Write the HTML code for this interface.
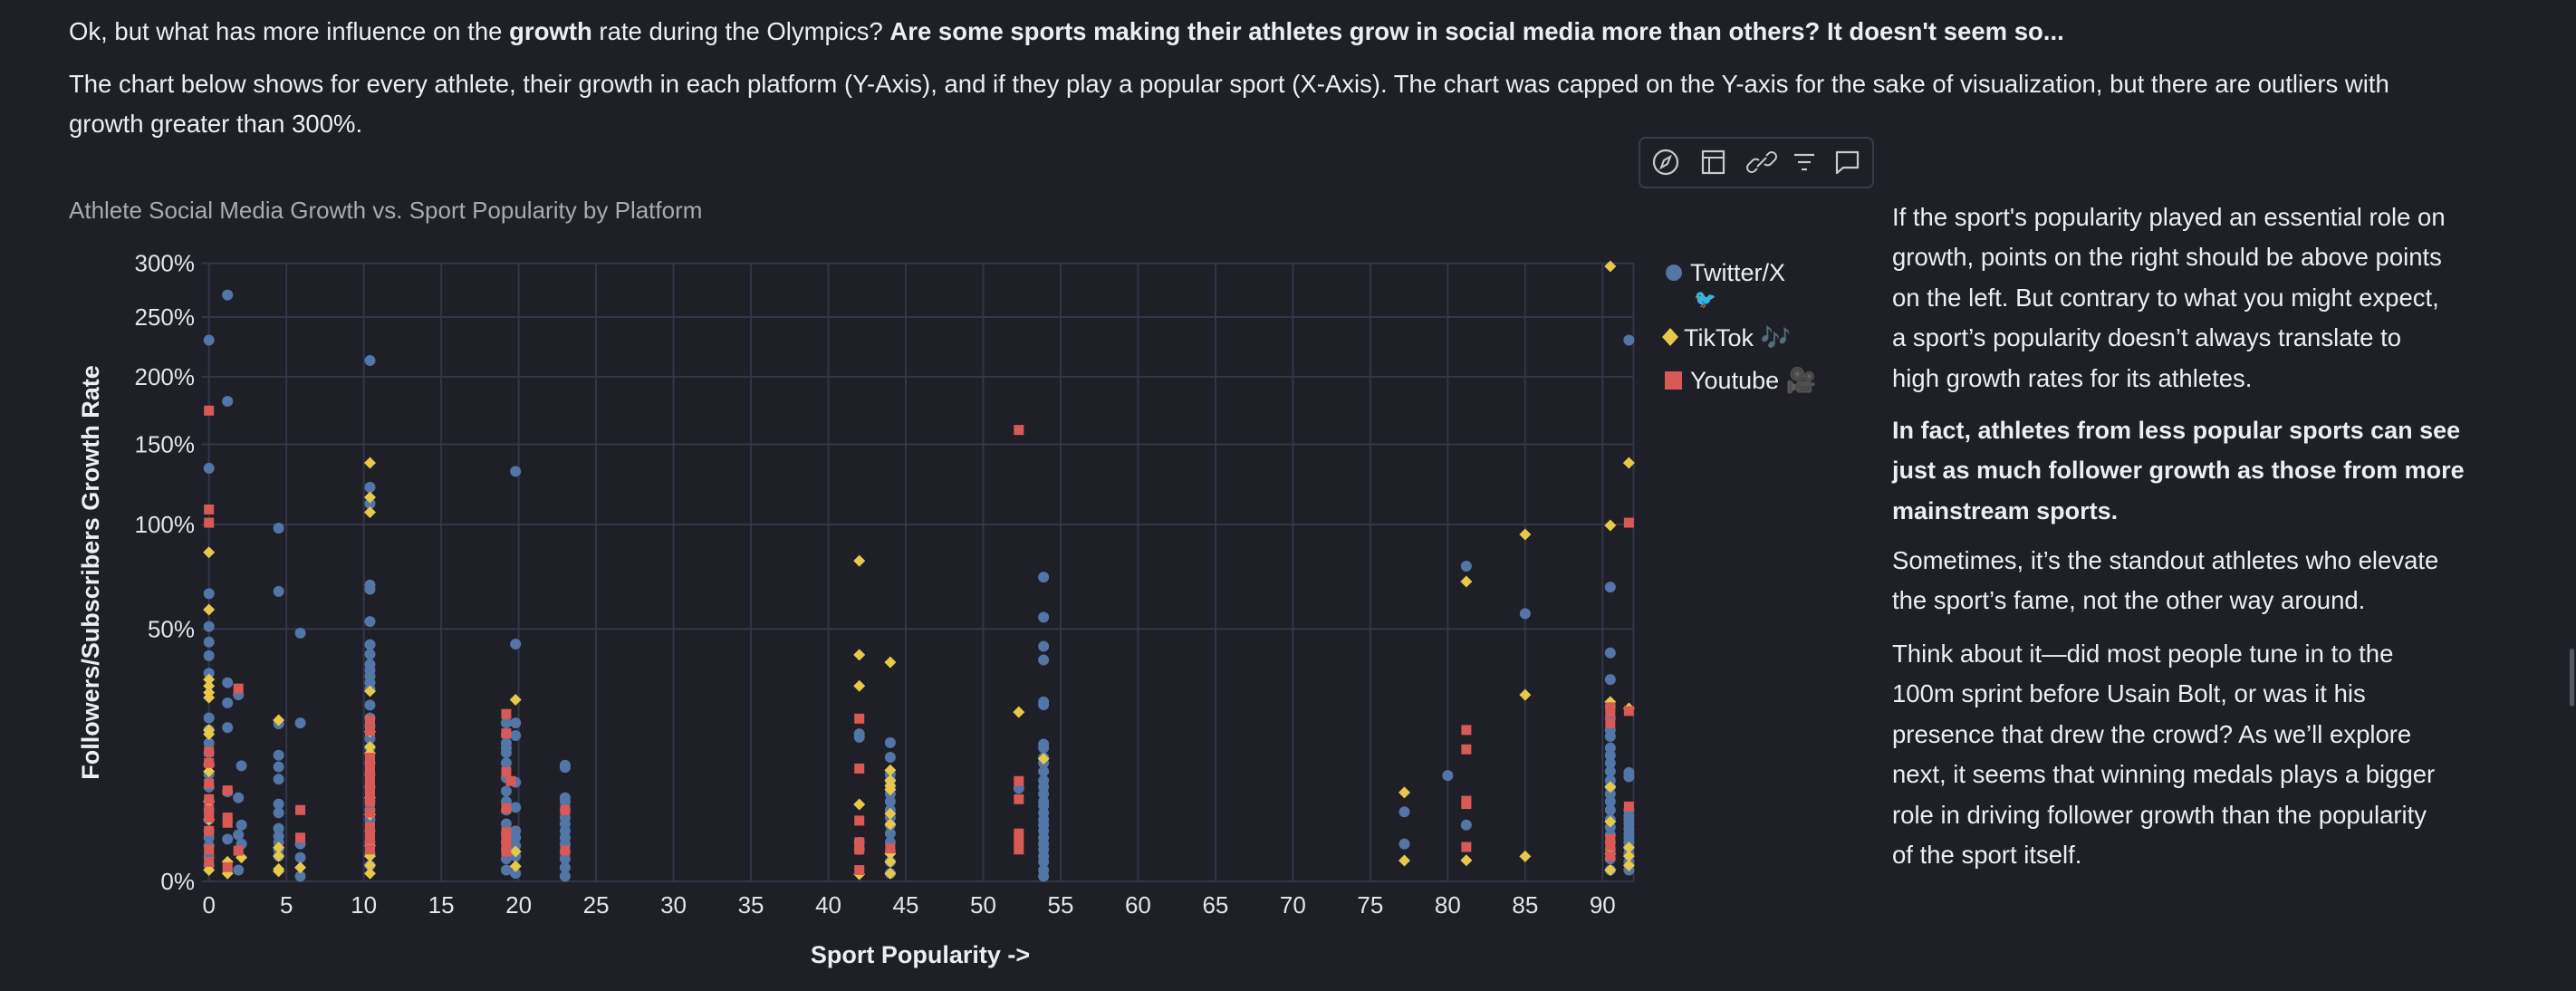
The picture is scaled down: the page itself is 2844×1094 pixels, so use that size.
<!DOCTYPE html>
<html><head><meta charset="utf-8">
<style>
html,body{margin:0;padding:0;background:#1e1f27;}
body{width:2844px;height:1094px;position:relative;overflow:hidden;font-family:"Liberation Sans","Noto Sans CJK JP",sans-serif;color:#eceef2;}
.p{position:absolute;white-space:nowrap;font-size:27.5px;line-height:44.4px;}
.r{position:absolute;white-space:nowrap;font-size:27.5px;line-height:44.4px;left:2089px;}
b{font-weight:bold;}
</style></head><body>
<div class="p" style="left:76px;top:13px;">Ok, but what has more influence on the <b>growth</b> rate during the Olympics? <b>Are some sports making their athletes grow in social media more than others? It doesn't seem so...</b></div>
<div class="p" style="left:76px;top:71px;">The chart below shows for every athlete, their growth in each platform (Y-Axis), and if they play a popular sport (X-Axis). The chart was capped on the Y-axis for the sake of visualization, but there are outliers with<br>growth greater than 300%.</div>

<div class="r" style="top:218px;">If the sport's popularity played an essential role on<br>growth, points on the right should be above points<br>on the left. But contrary to what you might expect,<br>a sport’s popularity doesn’t always translate to<br>high growth rates for its athletes.</div>
<div class="r" style="top:453px;font-weight:bold;font-size:27px;">In fact, athletes from less popular sports can see<br>just as much follower growth as those from more<br>mainstream sports.</div>
<div class="r" style="top:597px;">Sometimes, it’s the standout athletes who elevate<br>the sport’s fame, not the other way around.</div>
<div class="r" style="top:700px;">Think about it—did most people tune in to the<br>100m sprint before Usain Bolt, or was it his<br>presence that drew the crowd? As we’ll explore<br>next, it seems that winning medals plays a bigger<br>role in driving follower growth than the popularity<br>of the sport itself.</div>
<div style="position:absolute;left:2837px;top:716px;width:5px;height:64px;background:#55565f;border-radius:3px;"></div>

<svg id="chart" width="2844" height="1094" style="position:absolute;left:0;top:0;" xmlns="http://www.w3.org/2000/svg">
<g>
<rect x="1810" y="152" width="258" height="55" rx="7" fill="#1e1f27" stroke="#3a3b47" stroke-width="2"/>
<g><circle cx="1839" cy="179" r="13" fill="none" stroke="#c8cad2" stroke-width="2.2"/><path d="M1844 173 L1841 181 L1834 185 L1837 177 Z" fill="none" stroke="#c8cad2" stroke-width="2"/></g>
<g><rect x="1880" y="167" width="23" height="24" fill="none" stroke="#c8cad2" stroke-width="2.2"/><line x1="1880" y1="174" x2="1903" y2="174" stroke="#c8cad2" stroke-width="2"/><line x1="1887" y1="174" x2="1887" y2="191" stroke="#c8cad2" stroke-width="2"/></g>
<g><path d="M1940 186 l-3 3 a5 5 0 0 1 -7 -7 l5 -5 a5 5 0 0 1 7 0 M1950 172 l3 -3 a5 5 0 0 1 7 7 l-5 5 a5 5 0 0 1 -7 0 M1940 184 l10 -10" fill="none" stroke="#c8cad2" stroke-width="2"/></g>
<g><line x1="1981" y1="171" x2="2003" y2="171" stroke="#c8cad2" stroke-width="2.2"/><line x1="1985" y1="179" x2="1999" y2="179" stroke="#c8cad2" stroke-width="2.2"/><line x1="1989" y1="187" x2="1995" y2="187" stroke="#c8cad2" stroke-width="2.2"/></g>
<g><path d="M2028 168 h23 v17 h-16 l-7 6 z" fill="none" stroke="#c8cad2" stroke-width="2.2" stroke-linejoin="round"/></g>
</g>
<text x="76" y="241" font-size="26" fill="#a9abb3">Athlete Social Media Growth vs. Sport Popularity by Platform</text>
<g id="grid"></g>
<g id="ticks"></g>
<g id="marks"></g>
<text transform="translate(109,632) rotate(-90)" text-anchor="middle" font-size="27" font-weight="bold" fill="#eceef2">Followers/Subscribers Growth Rate</text>
<text x="1016" y="1063" text-anchor="middle" font-size="27" font-weight="bold" fill="#eceef2">Sport Popularity -&gt;</text>
<g>
<g><circle cx="1848" cy="301" r="9" fill="#5276a8"/><text x="1866" y="310" font-size="27" fill="#eceef2">Twitter/X</text><text x="1870" y="337" font-size="20" fill="#b8bcc4">🐦</text></g>
<g><path d="M1844 362 l9 10 l-9 10 l-9 -10 z" fill="#e8c84a"/><text x="1859" y="382" font-size="27" fill="#eceef2">TikTok 🎶</text></g>
<g><rect x="1838" y="410" width="19" height="20" fill="#d95a55"/><text x="1866" y="429" font-size="27" fill="#eceef2">Youtube 🎥</text></g>
</g>
</svg>
<script>
// data
const xTicks=[0,5,10,15,20,25,30,35,40,45,50,55,60,65,70,75,80,85,90];
const yTicks=[0,50,100,150,200,250,300];
const yTickLabels=["0%","50%","100%","150%","200%","250%","300%"];
const twX=[0,1.2,1.9,2.1,4.5,5.9,10.4,19.2,19.8,23,42,44,52.3,53.9,77.2,80,81.2,85,90.5,91.7];
const twVals=[
[230,134,65,51,45,40,34,21,18,15,13,11,9,7,5,4,3,2,1.5,1,0.5,0.2],
[270,181,31,25,18.6,6.3,1.4],
[27.3,5.5,1.7,0.1],
[10.5,2.5,1.1],
[98,66,19.5,12.5,10.3,8.2,4.7,3.7,2.2,1.6,1.2,0.8,0.5],
[48.4,19.7,1.1,0.45,0.02],
[213,122,112,69,67,53,44,40.5,37,35,33,31,29,24.4,21,19,16,14,11,9,7,5,4,3,2,1.2,0.6,0.2],
[19.7,17,15,14,13,11,8.4,6.4,5,4,2.6,1.8,1.2,0.8,0.4,0.1],
[132,44.2,19.7,16.7,7.7,4.3,2,1.5,1,0.5,0.05],
[10.6,10.2,5.5,5,4,3.2,2.6,2,1.5,1.1,0.7,0.4,0.15,0.02],
[17.1,16.3,1.2,0.8],
[15.1,12.1,9,8,7,6,5,4,3.2,2.5,1.8,1.2,0.7,0.3,0.05],
[6.8],
[72.7,54.8,43.4,38.5,25.3,24.5,14.8,14,12,11,9.5,8,7,6,5,4.5,3.7,3,2.5,2,1.5,1.1,0.8,0.5,0.3,0.1,0.02],
[3.8,1.1],
[8.8],
[78,2.5],
[56.3],
[68,41,32,24,21,18,16.5,14,12.5,11,9.5,8,7,6,5,4,3,2.3,1.7,1.2,0.8,0.4,0.1],
[230,9.3,8.6,4,3.4,3,2.6,2.2,1.8,1.5,1.2,0.9,0.6,0.3,0.1]
];
const ttX=[0,1.2,2.1,4.5,5.9,10.4,19.8,42,44,52.3,53.9,77.2,81.2,85,90.5,91.7];
const ttVals=[
[85,58,32,30,28,26.5,18,17,10.6,9.5,5,3,0.1],
[0.3,0.05],
[0.45],
[20.4,0.9,0.5,0.12,0.08],
[0.15],
[137.5,115.8,107,28.4,17.6,14.2,12.9,5.5,3.5,1,0.5,0.2,0.05],
[25.9,0.7,0.18],
[80.7,40.3,30,4.65,0.04],
[37.7,9.7,8,7.2,6.6,3.6,2.56,0.6,0.3,0.05],
[22.5],
[11.8],
[6.2,0.34],
[70.6,0.35],
[94.5,27.3,0.49],
[297,99.5,25.3,7,2.8,0.6,0.1],
[137.5,23.5,0.9,0.5,0.2]
];
const ytX=[0,1.2,1.9,5.9,10.4,19.2,19.5,23,42,44,52.3,81.2,90.5,91.7];
const ytVals=[
[174,108.6,101,13.2,11,7.5,5.3,4,3.2,2,0.8,0.3],
[6.5,3.2,2.7,0.16],
[29.2,0.74],
[4.0,1.5],
[20.4,17.8,12,11,10,9,8,7,6,5,3.7,2.3,2,1.4,0.8],
[22,17.2,9.4,4.2,1.9,1.5,1.1,0.7],
[7.9],
[4.0,0.75],
[20.8,10,2.9,1.2,0.8,0.1],
[0.85],
[160,7.9,5.3,1.8,1.3,0.8],
[18,13.7,5.1,4.7,0.93],
[23.8,22.5,19.7,1.4,1,0.5],
[101,22.8,4.4]
];
const X0=230.7,X1=1803.5,XMAX=92,Y0=973,YMAX=300,YTOP=290.6;
function xs(v){return X0+v*(X1-X0)/XMAX;}
function ys(v){return Y0-Math.sqrt(Math.max(0,Math.min(v,YMAX)))*(Y0-YTOP)/Math.sqrt(YMAX);}
const NS="http://www.w3.org/2000/svg";
function mk(tag,attrs,parent){const e=document.createElementNS(NS,tag);for(const k in attrs)e.setAttribute(k,attrs[k]);parent.appendChild(e);return e;}
const grid=document.getElementById('grid'),ticks=document.getElementById('ticks'),marks=document.getElementById('marks');
xTicks.forEach(t=>{
  const l=mk('line',{x1:xs(t),x2:xs(t),y1:YTOP,y2:Y0,stroke:'#34354a','stroke-width':2},grid);
  
  
  const tx=mk('text',{x:xs(t),y:1008,'text-anchor':'middle','font-size':26,fill:'#e4e5ea'},ticks);
  tx.textContent=t;
  
  
});
yTicks.forEach((t,i)=>{
  const l=mk('line',{x1:X0-8,x2:X1,y1:ys(t),y2:ys(t),stroke:'#34354a','stroke-width':2},grid);
  
  
  const tx=mk('text',{x:215,y:ys(t)+9,'text-anchor':'end','font-size':26,fill:'#e4e5ea'},ticks);
  tx.textContent=yTickLabels[i];
  
  
});
const fr=mk('line',{x1:X1,x2:X1,y1:YTOP,y2:Y0,stroke:'#34354a','stroke-width':2},grid);


twX.forEach((x,i)=>twVals[i].forEach(v=>{
  const c=mk('circle',{cx:xs(x),cy:ys(v),r:6,fill:'#5276a8'},marks);
  
  
}));
ttX.forEach((x,i)=>ttVals[i].forEach(v=>{
  const cx=xs(x),cy=ys(v);
  const d=mk('path',{d:`M${cx} ${cy-6.5} L${cx+6.5} ${cy} L${cx} ${cy+6.5} L${cx-6.5} ${cy} Z`,fill:'#e8c84a'},marks);
  
  
}));
ytX.forEach((x,i)=>ytVals[i].forEach(v=>{
  const s=mk('rect',{x:xs(x)-5.5,y:ys(v)-5.5,width:11,height:11,fill:'#d95a55'},marks);
  
  
}));
</script>
</body></html>
